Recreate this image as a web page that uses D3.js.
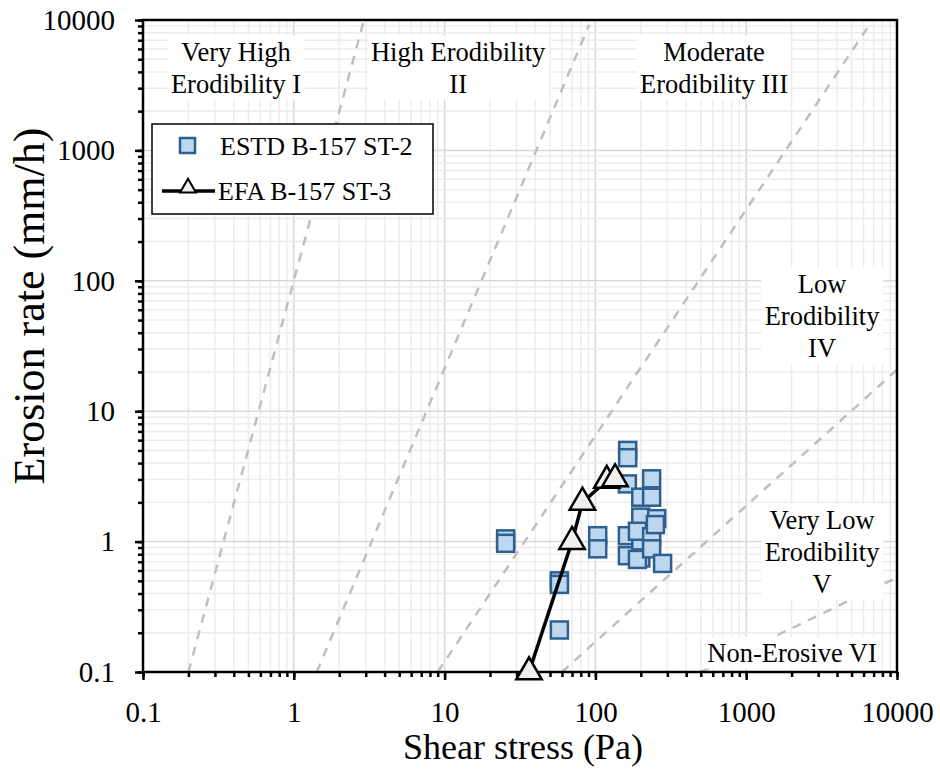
<!DOCTYPE html>
<html>
<head>
<meta charset="utf-8">
<script src="https://cdn.jsdelivr.net/npm/d3@7"></script>
<style>
    body { margin: 0; background: #fff; }
    text { font-family: "Liberation Serif", "Times New Roman", serif; fill: #000; }
</style>
</head>
<body>
<svg id="chart" width="940" height="771"></svg>
<script>
// ESTD B-157 ST-2 (squares)
var estdStress = [25.4, 25.4, 57.7, 57.7, 57.7, 103.6, 103.6, 163.7, 163.7, 163, 163, 163, 200, 200, 200, 200, 190, 190, 236, 236, 236, 236, 255, 250, 279];
var estdRate = [1.05, 0.97, 0.50, 0.47, 0.21, 1.11, 0.88, 5.0, 4.4, 2.77, 1.11, 0.78, 2.19, 1.54, 1.0, 0.75, 1.2, 0.73, 3.03, 2.19, 1.09, 0.88, 1.5, 1.35, 0.68];

// EFA B-157 ST-3 (line + triangles)
var efaStress = [36.3, 70, 82, 119, 135];
var efaRate = [0.1, 1.0, 2.0, 2.94, 3.03];

// erodibility category boundaries (dashed)
var boundaryStress = [[0.2, 2.92], [1.42, 91], [9, 6400], [60, 10000], [500, 10000]];
var boundaryRate = [[0.1, 10000], [0.1, 9200], [0.1, 8800], [0.1, 20.8], [0.1, 0.53]];

// category labels
var zoneNames = [["Very High", "Erodibility I"], ["High Erodibility", "II"], ["Moderate", "Erodibility III"],
    ["Low", "Erodibility", "IV"], ["Very Low", "Erodibility", "V"], ["Non-Erosive VI"]];
var zoneStress = [0.414, 12.3, 612, 3184, 3184, 2014];
var zoneRate = [4885, 4885, 4885, 81, 1.26, 0.12];

var majorTicks = [0.1, 1, 10, 100, 1000, 10000];
var tickLabels = ["0.1", "1", "10", "100", "1000", "10000"];

var margin = { top: 20, right: 43, bottom: 99, left: 143 },
    width = 940 - margin.left - margin.right,
    height = 771 - margin.top - margin.bottom;

var x = d3.scaleLog().domain([0.1, 10000]).range([0, width]);
var y = d3.scaleLog().domain([0.1, 10000]).range([height, 0]);

var svg = d3.select("#chart")
    .append("g")
    .attr("transform", "translate(" + margin.left + "," + margin.top + ")");

svg.append("clipPath").attr("id", "plotclip")
    .append("rect").attr("width", width).attr("height", height);

// grid: minor and major
var allTicks = x.ticks();
var isMajor = function(v) { return majorTicks.some(function(m) { return Math.abs(m - v) / m < 1e-6; }); };

var grid = svg.append("g");
grid.selectAll(".gx")
    .data(allTicks)
    .enter()
    .append("line")
    .attr("x1", function(d) { return x(d); })
    .attr("x2", function(d) { return x(d); })
    .attr("y1", 0)
    .attr("y2", height)
    .attr("stroke", function(d) { return isMajor(d) ? "#d9d9d9" : "#ececec"; })
    .attr("stroke-width", 1.5);
grid.selectAll(".gy")
    .data(y.ticks())
    .enter()
    .append("line")
    .attr("y1", function(d) { return y(d); })
    .attr("y2", function(d) { return y(d); })
    .attr("x1", 0)
    .attr("x2", width)
    .attr("stroke", function(d) { return isMajor(d) ? "#d9d9d9" : "#ececec"; })
    .attr("stroke-width", 1.5);

// boundaries
svg.append("g")
    .attr("clip-path", "url(#plotclip)")
    .selectAll("line")
    .data(boundaryStress)
    .enter()
    .append("line")
    .attr("x1", function(d) { return x(d[0]); })
    .attr("x2", function(d) { return x(d[1]); })
    .attr("y1", function(d, i) { return y(boundaryRate[i][0]); })
    .attr("y2", function(d, i) { return y(boundaryRate[i][1]); })
    .attr("stroke", "#bfbfbf")
    .attr("stroke-width", 2.5)
    .attr("stroke-dasharray", "9,8");

// zone labels with white boxes
var zones = svg.append("g");
zoneNames.forEach(function(lines, i) {
    var cx = x(zoneStress[i]), by = y(zoneRate[i]);
    var g = zones.append("g");
    var t = g.append("text")
        .attr("text-anchor", "middle")
        .style("font-size", "26.5px");
    lines.forEach(function(s, j) {
        t.append("tspan").attr("x", cx).attr("y", by + j * 32).text(s);
    });
    var bb = t.node().getBBox();
    g.insert("rect", "text")
        .attr("x", bb.x - 3)
        .attr("y", bb.y - 1)
        .attr("width", bb.width + 6)
        .attr("height", bb.height + 2)
        .attr("fill", "#fff");
});

// axes
svg.append("g")
    .attr("transform", "translate(0," + height + ")")
    .call(d3.axisBottom(x).tickValues(allTicks).tickSize(5).tickFormat(""))
    .call(function(g) { g.select(".domain").remove(); });
svg.append("g")
    .call(d3.axisLeft(y).tickValues(y.ticks()).tickSize(5).tickFormat(""))
    .call(function(g) { g.select(".domain").remove(); });

var xAxis = svg.append("g")
    .attr("transform", "translate(0," + height + ")")
    .call(d3.axisBottom(x).tickValues(majorTicks).tickSize(8).tickPadding(21)
        .tickFormat(function(d, i) { return tickLabels[i]; }));
xAxis.select(".domain").remove();
xAxis.selectAll("text").style("font-size", "29px").attr("fill", "#000");

var yAxis = svg.append("g")
    .call(d3.axisLeft(y).tickValues(majorTicks).tickSize(8).tickPadding(20)
        .tickFormat(function(d, i) { return tickLabels[i]; }));
yAxis.select(".domain").remove();
yAxis.selectAll("text").style("font-size", "29px").attr("fill", "#000");

svg.selectAll(".tick line").attr("stroke", "#000").attr("stroke-width", 2.5);

// frame
svg.append("rect")
    .attr("width", width)
    .attr("height", height)
    .attr("fill", "none")
    .attr("stroke", "#000")
    .attr("stroke-width", 2.5);

// ESTD squares
svg.append("g")
    .selectAll("rect")
    .data(estdStress)
    .enter()
    .append("rect")
    .attr("x", function(d) { return x(d) - 8.5; })
    .attr("y", function(d, i) { return y(estdRate[i]) - 8.5; })
    .attr("width", 17)
    .attr("height", 17)
    .attr("fill", "#bdd7ee")
    .attr("stroke", "#2e5f8f")
    .attr("stroke-width", 2.5);

// EFA line and triangles
var line = d3.line()
    .x(function(d) { return x(d); })
    .y(function(d, i) { return y(efaRate[i]); });

svg.append("path")
    .datum(efaStress)
    .attr("d", line)
    .attr("fill", "none")
    .attr("stroke", "#000")
    .attr("stroke-width", 3.5);

var tri = d3.symbol().type(d3.symbolTriangle).size(280);
svg.append("g")
    .selectAll("path")
    .data(efaStress)
    .enter()
    .append("path")
    .attr("d", tri)
    .attr("transform", function(d, i) { return "translate(" + x(d) + "," + y(efaRate[i]) + ")"; })
    .attr("fill", "#efefef")
    .attr("stroke", "#000")
    .attr("stroke-width", 2.5);

// legend
var legend = svg.append("g").attr("transform", "translate(9,104)");
legend.append("rect")
    .attr("width", 281)
    .attr("height", 90)
    .attr("fill", "#fff")
    .attr("stroke", "#000")
    .attr("stroke-width", 1.5);
legend.append("rect")
    .attr("x", 28).attr("y", 14).attr("width", 15).attr("height", 15)
    .attr("fill", "#bdd7ee").attr("stroke", "#2e5f8f").attr("stroke-width", 2.5);
legend.append("text").attr("x", 68).attr("y", 31).style("font-size", "26px").text("ESTD B-157 ST-2");
legend.append("line")
    .attr("x1", 10).attr("x2", 63).attr("y1", 67).attr("y2", 67)
    .attr("stroke", "#000").attr("stroke-width", 3.5);
legend.append("path")
    .attr("d", d3.symbol().type(d3.symbolTriangle).size(110))
    .attr("transform", "translate(36,64)")
    .attr("fill", "#efefef").attr("stroke", "#000").attr("stroke-width", 2);
legend.append("text").attr("x", 66).attr("y", 76).style("font-size", "26px").text("EFA B-157 ST-3");

// axis titles
svg.append("text")
    .attr("x", width / 2 + 3)
    .attr("y", height + 87)
    .attr("text-anchor", "middle")
    .style("font-size", "36px")
    .text("Shear stress (Pa)");
svg.append("text")
    .attr("transform", "translate(-99," + (height / 2 - 40) + ") rotate(-90)")
    .attr("text-anchor", "middle")
    .style("font-size", "44px")
    .text("Erosion rate (mm/h)");
</script>
</body>
</html>
